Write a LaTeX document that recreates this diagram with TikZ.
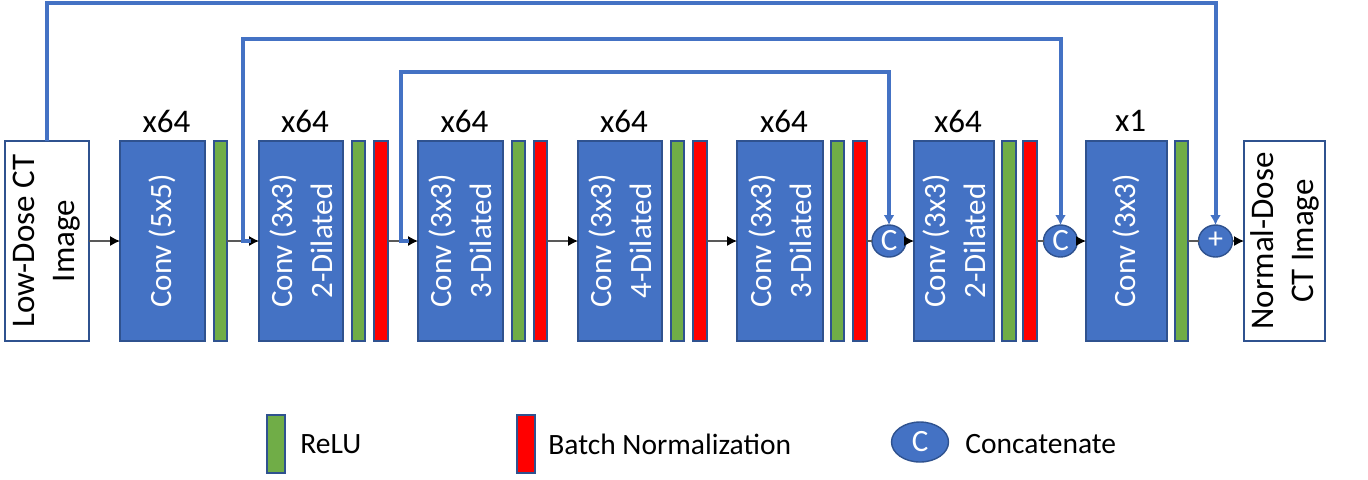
\documentclass[tikz,border=0pt]{standalone}
\usepackage{fontspec}
\setmainfont{Carlito}
\usetikzlibrary{shapes.geometric,arrows.meta}
\definecolor{convblue}{RGB}{68,114,196}
\definecolor{edgeblue}{RGB}{47,82,143}
\definecolor{relugreen}{RGB}{112,173,71}
\definecolor{bnred}{RGB}{255,0,0}
\tikzset{
  blk/.style={rectangle, inner sep=0pt, outer sep=0pt, draw=edgeblue, line width=0.7pt, minimum height=100pt},
  conv/.style={blk, fill=convblue},
  io/.style={blk, fill=white},
  relu/.style={blk, fill=relugreen, minimum width=6.5pt},
  bn/.style={blk, fill=bnred, minimum width=6.5pt},
  cat/.style={ellipse, fill=convblue, draw=edgeblue, line width=0.7pt, inner sep=0pt, outer sep=0pt, minimum width=17pt, minimum height=16pt},
  cattxt/.style={text=white, font=\fontsize{15.5}{18}\selectfont, inner sep=0pt},
  convtxt/.style={rotate=90, align=center, text=white, font=\fontsize{15.5}{20}\selectfont, inner sep=0pt},
  iotxt/.style={rotate=90, align=center, text=black, font=\fontsize{16.5}{20}\selectfont, inner sep=0pt},
  lbl/.style={font=\fontsize{16.5}{20}\selectfont, inner sep=0pt},
  legtxt/.style={anchor=west, font=\fontsize{14.75}{18}\selectfont, inner sep=0pt},
  flow/.style={draw=black!65, line width=0.6pt},
  flowarr/.style={flow, -{Latex[length=5pt,width=5pt,color=black]}},
  skipline/.style={draw=convblue, line width=2pt, line join=miter, -{Latex[length=5pt,width=5.5pt]}}
}
\begin{document}
\begin{tikzpicture}[x=0.5pt,y=-0.5pt]
\useasboundingbox (0,0) rectangle (1368,479);
% main row
\node[io, minimum width=42pt] (in) at (47,241) {};
\node[iotxt] (intxt) at (in) {Low-Dose CT\\Image};
\node[conv, minimum width=42.5pt] (c1) at (162.5,241) {};
\node[convtxt] (c1t) at (c1) {Conv (5x5)};
\node[relu] (g1) at (220.5,241) {};
\node[conv, minimum width=42pt] (c2) at (301,241) {};
\node[convtxt] (c2t) at (c2) {Conv (3x3)\\2-Dilated};
\node[relu] (g2) at (358.5,241) {};
\node[bn, minimum width=7pt] (r2) at (381,241) {};
\node[conv, minimum width=42.5pt] (c3) at (460.5,241) {};
\node[convtxt] (c3t) at (c3) {Conv (3x3)\\3-Dilated};
\node[relu] (g3) at (518.5,241) {};
\node[bn] (r3) at (540.5,241) {};
\node[conv, minimum width=42pt] (c4) at (620,241) {};
\node[convtxt] (c4t) at (c4) {Conv (3x3)\\4-Dilated};
\node[relu] (g4) at (677.5,241) {};
\node[bn, minimum width=7pt] (r4) at (700,241) {};
\node[conv, minimum width=43pt] (c5) at (780,241) {};
\node[convtxt] (c5t) at (c5) {Conv (3x3)\\3-Dilated};
\node[relu] (g5) at (837.5,241) {};
\node[bn, minimum width=7pt] (r5) at (860,241) {};
\node[cat] (k1) at (889,241) {};
\node[cattxt] (k1t) at (k1) {C};
\node[conv, minimum width=40pt] (c6) at (954,241) {};
\node[convtxt] (c6t) at (c6) {Conv (3x3)\\2-Dilated};
\node[relu, minimum width=7pt] (g6) at (1009,241) {};
\node[bn, minimum width=7pt] (r6) at (1030,241) {};
\node[cat] (k2) at (1060.5,241) {};
\node[cattxt] (k2t) at (k2) {C};
\node[conv, minimum width=40.5pt] (c7) at (1126.5,241) {};
\node[convtxt] (c7t) at (c7) {Conv (3x3)};
\node[relu] (g7) at (1181.5,241) {};
\node[cat] (pl) at (1215.5,241) {};
\node[cattxt, font=\fontsize{15}{16}\selectfont] (plt) at ([yshift=0.5pt]pl) {+};
\node[io, minimum width=40.5pt] (out) at (1284.5,241) {};
\node[iotxt] (outtxt) at (out) {Normal-Dose\\CT Image};
% channel labels
\node[lbl] (l1) at ([xshift=2pt,yshift=10pt]c1.north) {x64};
\node[lbl] (l2) at ([xshift=2pt,yshift=10pt]c2.north) {x64};
\node[lbl] (l3) at ([xshift=2pt,yshift=10pt]c3.north) {x64};
\node[lbl] (l4) at ([xshift=2pt,yshift=10pt]c4.north) {x64};
\node[lbl] (l5) at ([xshift=2pt,yshift=10pt]c5.north) {x64};
\node[lbl] (l6) at ([xshift=2pt,yshift=10pt]c6.north) {x64};
\node[lbl] (l7) at ([xshift=2pt,yshift=10pt]c7.north) {x1};
% flow arrows
\draw[flowarr] (in.east) -- (c1.west);
\draw[flowarr] (g1.east) -- (c2.west);
\draw[flowarr] (r2.east) -- (c3.west);
\draw[flowarr] (r3.east) -- (c4.west);
\draw[flowarr] (r4.east) -- (c5.west);
\draw[flow] (r5.east) -- (k1.west);
\draw[flowarr] (k1.east) -- (c6.west);
\draw[flow] (r6.east) -- (k2.west);
\draw[flowarr] (k2.east) -- (c7.west);
\draw[flow] (g7.east) -- (pl.west);
\draw[flowarr] (pl.east) -- (out.west);
% skip connections
\coordinate (top1) at (0,3);
\coordinate (top2) at (0,38.5);
\coordinate (top3) at (0,72);
\coordinate (j2a) at (251,241);
\coordinate (j2) at (243,241);
\coordinate (j3a) at (409,241);
\coordinate (j3) at (401,241);
\draw[skipline] (in.north) |- (pl.north |- top1) -- (pl.north);
\draw[skipline] (j2a) -- (j2) |- (k2.north |- top2) -- (k2.north);
\draw[skipline] (j3a) -- (j3) |- (k1.north |- top3) -- (k1.north);
% legend
\node[relu, minimum width=9pt, minimum height=29pt] (lg) at (276,444) {};
\node[legtxt] (lgt) at (300,444) {ReLU};
\node[bn, minimum width=9pt, minimum height=29pt] (lr) at (526,444) {};
\node[legtxt] (lrt) at (548,444) {Batch Normalization};
\node[cat, minimum width=28.5pt, minimum height=20pt] (lc) at (920,442) {};
\node[cattxt] (lct) at (lc) {C};
\node[legtxt] (lctt) at (965,444) {Concatenate};
\end{tikzpicture}
\end{document}
